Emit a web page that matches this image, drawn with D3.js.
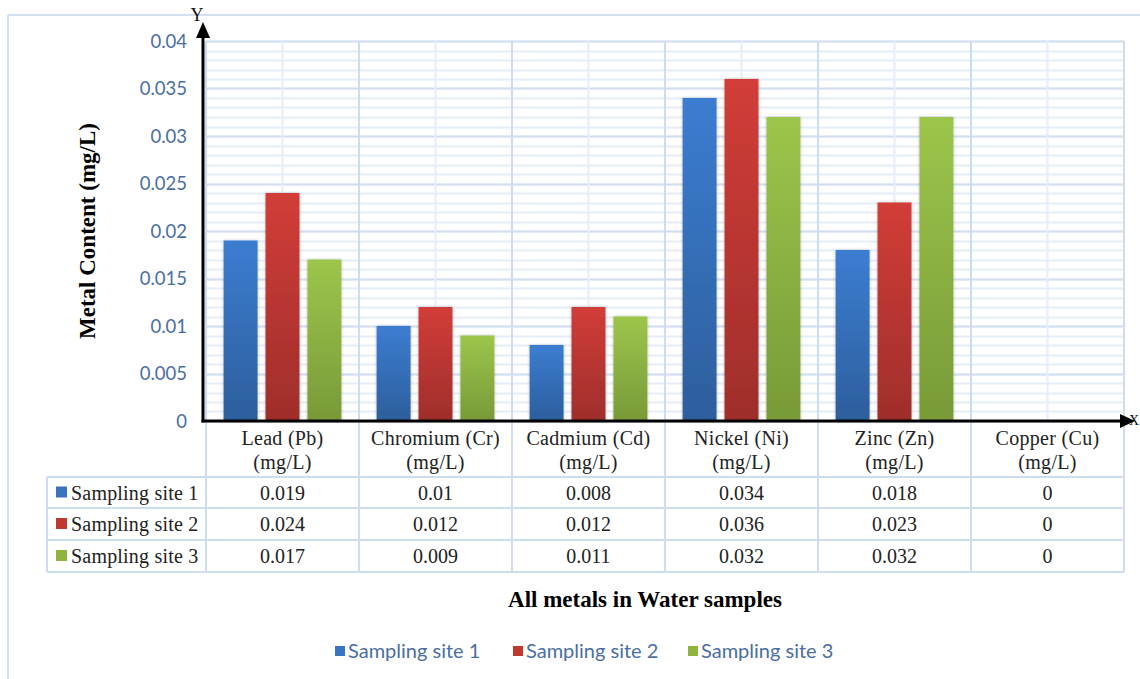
<!DOCTYPE html>
<html>
<head>
<meta charset="utf-8">
<script src="https://cdn.jsdelivr.net/npm/d3@7"></script>
<style>
  html, body { margin: 0; padding: 0; background: #fff; }
  svg { display: block; }
</style>
</head>
<body>
<svg id="chart" width="1140" height="679"></svg>
<script>
// Metal concentrations (mg/L) at three sampling sites
const categories = ["Lead (Pb)", "Chromium (Cr)", "Cadmium (Cd)", "Nickel (Ni)", "Zinc (Zn)", "Copper (Cu)"];
const unitLabel = "(mg/L)";
const seriesNames = ["Sampling site 1", "Sampling site 2", "Sampling site 3"];
const site1 = [0.019, 0.01, 0.008, 0.034, 0.018, 0];
const site2 = [0.024, 0.012, 0.012, 0.036, 0.023, 0];
const site3 = [0.017, 0.009, 0.011, 0.032, 0.032, 0];
const yTicks = [0, 0.005, 0.01, 0.015, 0.02, 0.025, 0.03, 0.035, 0.04];
const yTickLabels = ["0", "0.005", "0.01", "0.015", "0.02", "0.025", "0.03", "0.035", "0.04"];
const minorStep = 0.001;

const seriesValues = [site1, site2, site3];
const colors = [
  { top: "#3b7dd1", bottom: "#2d5e9c", key: "#3a74c0" },
  { top: "#d23d38", bottom: "#9e2e2b", key: "#c0392f" },
  { top: "#9dc54c", bottom: "#789a37", key: "#8fb440" }
];

const svg = d3.select("#chart");
const plot = { left: 206, right: 1124, top: 41, bottom: 421 };
const axisX = 203;
const gridMajor = "#d3e0f2";
const gridMinor = "#e6eef9";
const tableLine = "#cddcf0";
const serif = "'Liberation Serif', 'Times New Roman', serif";
const sans = "Lato, 'Open Sans', sans-serif";
const tickColor = "#4a6ea3";
const cellText = "#222";

const x0 = d3.scaleBand().domain(categories).range([plot.left, plot.right]).padding(0);
const x1 = d3.scaleBand().domain(seriesNames).range([0, x0.bandwidth()])
  .paddingInner(0.19).paddingOuter(0.42);
const y = d3.scaleLinear().domain([0, 0.04]).range([plot.bottom, plot.top]);

// gradients and shadow
const defs = svg.append("defs");
colors.forEach((c, i) => {
  const g = defs.append("linearGradient").attr("id", "grad" + i)
    .attr("x1", 0).attr("y1", 0).attr("x2", 0).attr("y2", 1);
  g.append("stop").attr("offset", "0%").attr("stop-color", c.top);
  g.append("stop").attr("offset", "100%").attr("stop-color", c.bottom);
});
const f = defs.append("filter").attr("id", "shadow")
  .attr("x", "-20%").attr("y", "-5%").attr("width", "140%").attr("height", "110%");
f.append("feDropShadow").attr("dx", 0).attr("dy", 0).attr("stdDeviation", 1.5)
  .attr("flood-color", "#000").attr("flood-opacity", 0.25);

// outer frame
svg.append("line").attr("x1", 8).attr("x2", 1140).attr("y1", 15).attr("y2", 15)
  .attr("stroke", gridMajor).attr("stroke-width", 2);
svg.append("line").attr("x1", 8).attr("x2", 8).attr("y1", 15).attr("y2", 679)
  .attr("stroke", gridMajor).attr("stroke-width", 2);

// minor horizontal gridlines
const minorTicks = d3.range(0, 40.5, 1).map(d => d * minorStep);
svg.append("g").selectAll("line").data(minorTicks).join("line")
  .attr("x1", plot.left).attr("x2", plot.right)
  .attr("y1", d => Math.round(y(d)) + 0.5).attr("y2", d => Math.round(y(d)) + 0.5)
  .attr("stroke", gridMinor).attr("stroke-width", 2);
// major horizontal gridlines
svg.append("g").selectAll("line").data(yTicks).join("line")
  .attr("x1", plot.left).attr("x2", plot.right)
  .attr("y1", d => Math.round(y(d)) + 0.5).attr("y2", d => Math.round(y(d)) + 0.5)
  .attr("stroke", gridMajor).attr("stroke-width", 2);
// vertical gridlines at category centres
svg.append("g").selectAll("line").data(categories).join("line")
  .attr("x1", d => x0(d) + x0.bandwidth() / 2).attr("x2", d => x0(d) + x0.bandwidth() / 2)
  .attr("y1", plot.top).attr("y2", plot.bottom)
  .attr("stroke", gridMinor).attr("stroke-width", 2);

// table geometry
const rowsY = [477, 508, 540, 572];
const tableLeft = 47;
const boundaries = categories.map(c => x0(c)).concat([plot.right]);

// vertical lines: category boundaries through plot and table
svg.append("g").selectAll("line").data(boundaries).join("line")
  .attr("x1", d => d).attr("x2", d => d)
  .attr("y1", plot.top).attr("y2", rowsY[3])
  .attr("stroke", tableLine).attr("stroke-width", 2);
// table horizontal lines
svg.append("g").selectAll("line").data(rowsY).join("line")
  .attr("x1", tableLeft).attr("x2", plot.right)
  .attr("y1", d => d).attr("y2", d => d)
  .attr("stroke", tableLine).attr("stroke-width", 2);
svg.append("line").attr("x1", tableLeft).attr("x2", tableLeft)
  .attr("y1", rowsY[0]).attr("y2", rowsY[3])
  .attr("stroke", tableLine).attr("stroke-width", 2);

// bars
const groups = svg.append("g").selectAll("g").data(categories).join("g")
  .attr("transform", d => `translate(${x0(d)},0)`);
groups.selectAll("rect")
  .data((c, ci) => seriesValues.map((vals, si) => ({ s: seriesNames[si], si, v: vals[ci] })))
  .join("rect")
  .filter(d => d.v > 0)
  .attr("x", d => x1(d.s))
  .attr("width", x1.bandwidth())
  .attr("y", d => y(d.v))
  .attr("height", d => y(0) - y(d.v))
  .attr("fill", d => `url(#grad${d.si})`)
  .attr("filter", "url(#shadow)");

// y axis tick labels
const yAxis = d3.axisLeft(y).tickValues(yTicks)
  .tickFormat((d, i) => yTickLabels[i]).tickSize(0).tickPadding(16);
const ya = svg.append("g").attr("transform", `translate(${axisX},0)`).call(yAxis);
ya.select(".domain").remove();
ya.selectAll("text").attr("font-family", sans).attr("font-size", 18.5)
  .attr("fill", tickColor).attr("dy", "0.35em");

// axis arrows
svg.append("line").attr("x1", axisX).attr("x2", axisX).attr("y1", plot.bottom + 1.5).attr("y2", 34)
  .attr("stroke", "#000").attr("stroke-width", 3);
svg.append("path").attr("d", `M${axisX},22 L${axisX - 7},38 L${axisX + 7},38 Z`).attr("fill", "#000");
svg.append("line").attr("x1", axisX - 1.5).attr("x2", 1126).attr("y1", plot.bottom).attr("y2", plot.bottom)
  .attr("stroke", "#000").attr("stroke-width", 3);
svg.append("path").attr("d", `M1135,${plot.bottom} L1120,${plot.bottom - 7} L1120,${plot.bottom + 7} Z`).attr("fill", "#000");
svg.append("text").attr("x", 197).attr("y", 21).attr("text-anchor", "middle")
  .attr("font-family", serif).attr("font-size", 18).attr("fill", "#111").text("Y");
svg.append("text").attr("x", 1129).attr("y", 425).attr("text-anchor", "start")
  .attr("font-family", serif).attr("font-size", 14).attr("fill", "#111").text("X");

// y axis title
svg.append("text")
  .attr("transform", `translate(95,231) rotate(-90)`)
  .attr("text-anchor", "middle")
  .attr("font-family", serif).attr("font-weight", "bold").attr("font-size", 23)
  .attr("fill", "#000").text("Metal Content (mg/L)");

// table header: category names
const header = svg.append("g").selectAll("text").data(categories).join("text")
  .attr("text-anchor", "middle")
  .attr("font-family", serif).attr("font-size", 20).attr("letter-spacing", 0.3)
  .attr("fill", cellText);
header.append("tspan").attr("x", d => x0(d) + x0.bandwidth() / 2).attr("y", 445).text(d => d);
header.append("tspan").attr("x", d => x0(d) + x0.bandwidth() / 2).attr("y", 469).text(unitLabel);

// table rows
seriesNames.forEach((name, si) => {
  const cy = (rowsY[si] + rowsY[si + 1]) / 2;
  svg.append("rect").attr("x", 56).attr("y", cy - 6).attr("width", 11).attr("height", 11)
    .attr("fill", colors[si].key);
  svg.append("text").attr("x", 71).attr("y", cy).attr("dy", "0.35em")
    .attr("font-family", serif).attr("font-size", 20).attr("letter-spacing", 0.2)
    .attr("fill", cellText).text(name);
  svg.append("g").selectAll("text").data(seriesValues[si]).join("text")
    .attr("x", (d, i) => x0(categories[i]) + x0.bandwidth() / 2)
    .attr("y", cy).attr("dy", "0.35em").attr("text-anchor", "middle")
    .attr("font-family", serif).attr("font-size", 20).attr("fill", cellText)
    .text(d => String(d));
});

// x axis title
svg.append("text").attr("x", 645).attr("y", 607).attr("text-anchor", "middle")
  .attr("font-family", serif).attr("font-weight", "bold").attr("font-size", 23)
  .attr("fill", "#000").text("All metals in Water samples");

// legend
const legendX = [335, 513, 688];
const legend = svg.append("g").selectAll("g").data(seriesNames).join("g")
  .attr("transform", (d, i) => `translate(${legendX[i]},651)`);
legend.append("rect").attr("x", 0).attr("y", -5).attr("width", 10).attr("height", 10)
  .attr("fill", (d, i) => colors[i].key);
legend.append("text").attr("x", 13).attr("y", 0).attr("dy", "0.35em")
  .attr("font-family", sans).attr("font-size", 20).attr("fill", tickColor).text(d => d);
</script>
</body>
</html>
